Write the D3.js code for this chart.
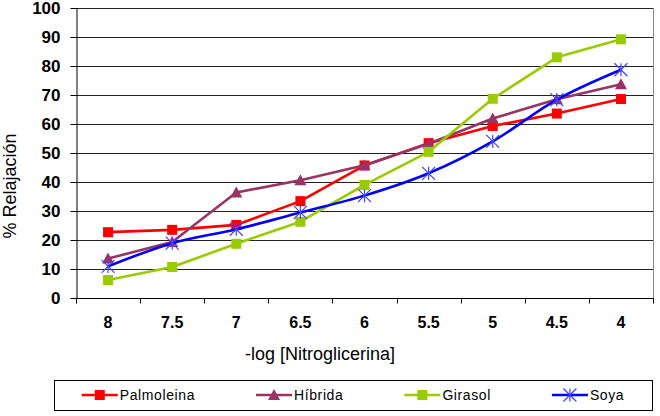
<!DOCTYPE html>
<html>
<head>
<meta charset="utf-8">
<script src="https://cdn.jsdelivr.net/npm/d3@7"></script>
<style>
  body { margin: 0; background: #fff; }
  svg { display: block; font-family: "Liberation Sans", Arial, sans-serif; }
</style>
</head>
<body>
<div id="chart"></div>
<script>
const width = 660, height = 416
const margin = {top: 8, right: 7, bottom: 118, left: 76}

// -log [Nitroglicerina]
const categories = ["8", "7.5", "7", "6.5", "6", "5.5", "5", "4.5", "4"]
const yTicks = [0, 10, 20, 30, 40, 50, 60, 70, 80, 90, 100]

const palmoleina = [22.7, 23.5, 25.2, 33.4, 45.7, 53.4, 59.3, 63.6, 68.6]
const hibrida    = [13.6, 19.3, 36.4, 40.6, 45.8, 53.2, 61.9, 68.5, 73.7]
const girasol    = [6.2, 10.7, 18.7, 26.3, 39.0, 50.4, 68.7, 83.0, 89.2]
const soya       = [10.9, 18.9, 23.7, 29.5, 35.3, 43.0, 54.0, 68.4, 78.7]

const series = [
    {name: "Palmoleina", values: palmoleina, color: "#ff0000", marker: "square"},
    {name: "Híbrida", values: hibrida, color: "#993366", marker: "triangle"},
    {name: "Girasol", values: girasol, color: "#99cc00", marker: "square"},
    {name: "Soya", values: soya, color: "#0000ff", marker: "star", smooth: true},
]

const svg = d3.select("#chart").append("svg")
    .attr("width", width)
    .attr("height", height)

const x = d3.scaleBand()
    .domain(categories)
    .range([margin.left, width - margin.right])

const y = d3.scaleLinear()
    .domain([0, 100])
    .range([height - margin.bottom, margin.top])

const xc = d => x(d) + x.bandwidth() / 2

// gridlines
svg.append("g")
    .selectAll("line")
    .data(yTicks.slice(1))
    .join("line")
    .attr("x1", margin.left)
    .attr("x2", width - margin.right)
    .attr("y1", d => Math.round(y(d)) + 0.5)
    .attr("y2", d => Math.round(y(d)) + 0.5)
    .attr("stroke", "#222")
    .attr("stroke-width", 1)

// right border
svg.append("line")
    .attr("x1", width - margin.right + 0.5)
    .attr("x2", width - margin.right + 0.5)
    .attr("y1", margin.top)
    .attr("y2", height - margin.bottom)
    .attr("stroke", "#888")

// y axis
const yAxis = svg.append("g")
    .attr("transform", `translate(${margin.left + 0.5},0)`)
    .call(d3.axisLeft(y).tickValues(yTicks).tickSize(6).tickSizeOuter(0).tickPadding(10))
yAxis.select(".domain").attr("stroke", "#000")
yAxis.selectAll(".tick line").attr("stroke", "#000")
yAxis.selectAll(".tick text")
    .attr("font-family", "Liberation Sans, Arial, sans-serif")
    .attr("font-size", "17px")
    .attr("font-weight", "bold")
    .attr("fill", "#000")

// x axis: ticks between categories
const xAxisG = svg.append("g")
    .attr("transform", `translate(0,${Math.round(y(0)) + 0.5})`)
xAxisG.append("line")
    .attr("x1", margin.left)
    .attr("x2", width - margin.right + 1)
    .attr("stroke", "#000")
const bounds = categories.map(c => x(c)).concat([x(categories[categories.length - 1]) + x.bandwidth()])
xAxisG.selectAll("line.tk")
    .data(bounds)
    .join("line")
    .attr("class", "tk")
    .attr("x1", d => Math.round(d) + 0.5)
    .attr("x2", d => Math.round(d) + 0.5)
    .attr("y1", 0)
    .attr("y2", 5)
    .attr("stroke", "#000")
xAxisG.selectAll("text")
    .data(categories)
    .join("text")
    .attr("x", d => xc(d))
    .attr("y", 29)
    .attr("text-anchor", "middle")
    .attr("font-size", "16px")
    .attr("font-weight", "bold")
    .text(d => d)

// axis titles
svg.append("text")
    .attr("x", 320)
    .attr("y", 360)
    .attr("text-anchor", "middle")
    .attr("font-size", "18px")
    .text("-log [Nitroglicerina]")

svg.append("text")
    .attr("transform", "translate(16,186) rotate(-90)")
    .attr("text-anchor", "middle")
    .attr("font-size", "18px")
    .text("% Relajación")

// markers
function drawMarker(g, type, color, cx, cy) {
    if (type === "square") {
        g.append("rect")
            .attr("x", cx - 5).attr("y", cy - 5)
            .attr("width", 10).attr("height", 10)
            .attr("fill", color)
    } else if (type === "triangle") {
        g.append("path")
            .attr("d", `M${cx},${cy - 6}L${cx + 6},${cy + 5}L${cx - 6},${cy + 5}Z`)
            .attr("fill", color)
    } else if (type === "star") {
        const r = 6.5
        g.append("path")
            .attr("d", `M${cx},${cy - r}V${cy + r}M${cx - r},${cy - r}L${cx + r},${cy + r}M${cx - r},${cy + r}L${cx + r},${cy - r}`)
            .attr("stroke", "#4444ff")
            .attr("stroke-width", 1.2)
            .attr("fill", "none")
    }
}

const plot = svg.append("g")
series.forEach(s => {
    const line = d3.line()
        .x((d, i) => xc(categories[i]))
        .y(d => y(d))
        .curve(s.smooth ? d3.curveCatmullRom.alpha(0.5) : d3.curveLinear)
    const g = plot.append("g")
    g.append("path")
        .attr("d", line(s.values))
        .attr("fill", "none")
        .attr("stroke", s.color)
        .attr("stroke-width", 2.6)
        .attr("stroke-linejoin", "round")
    s.values.forEach((v, i) => drawMarker(g, s.marker, s.color, xc(categories[i]), y(v)))
})

// legend
const legend = {x: 54, y: 380, w: 598, h: 30}
svg.append("rect")
    .attr("x", legend.x + 0.5)
    .attr("y", legend.y + 0.5)
    .attr("width", legend.w)
    .attr("height", legend.h)
    .attr("fill", "#fff")
    .attr("stroke", "#000")

const items = svg.append("g").selectAll("g")
    .data(series)
    .join("g")
items.append("text")
    .attr("x", 38)
    .attr("y", 0)
    .attr("dy", "0.35em")
    .attr("font-size", "14px")
    .attr("letter-spacing", "0.6px")
    .text(d => d.name)

const widths = []
items.each(function () {
    widths.push(38 + d3.select(this).select("text").node().getComputedTextLength())
})
const gap = 61
const total = d3.sum(widths) + gap * (widths.length - 1)
let cur = legend.x + (legend.w - total) / 2
items.each(function (d, i) {
    const g = d3.select(this).attr("transform", `translate(${cur},${legend.y + 15})`)
    g.insert("line", "text")
        .attr("x1", 0).attr("x2", 36)
        .attr("stroke", d.color)
        .attr("stroke-width", 2.6)
    drawMarker(g, d.marker, d.color, 18, 0)
    cur += widths[i] + gap
})
</script>
</body>
</html>
